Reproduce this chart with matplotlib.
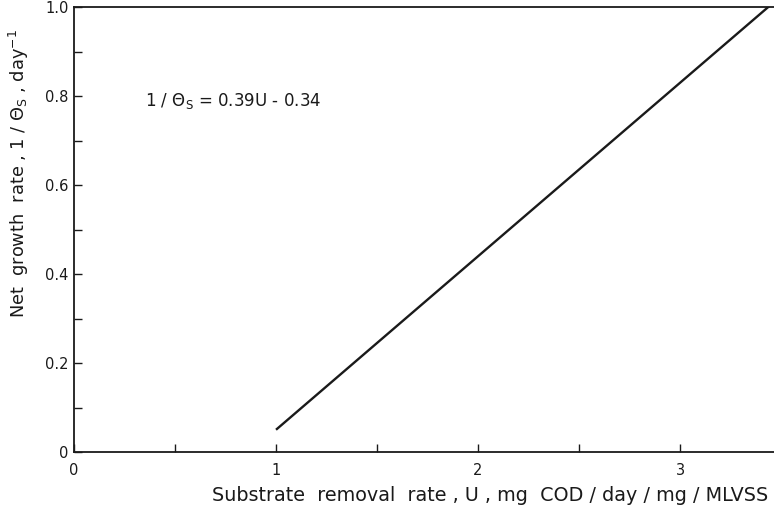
import matplotlib

matplotlib.use("Agg")
import matplotlib.pyplot as plt
import numpy as np
from matplotlib.ticker import MultipleLocator, FixedLocator

# regression line 1/theta_s = 0.39U - 0.34, drawn between these U values
u_ends = [1.0, 3.46]
slope = 0.39
intercept = -0.34
x_ticks = [0, 1, 2, 3]
x_tick_labels = ["0", "1", "2", "3"]
y_ticks = [0.0, 0.2, 0.4, 0.6, 0.8, 1.0]
y_tick_labels = ["0", "0.2", "0.4", "0.6", "0.8", "1.0"]

ink = "#1a1a1a"

fig = plt.figure(figsize=(7.74, 5.09), dpi=100)
ax = fig.add_axes([0.0956, 0.112, 0.9044, 0.874])

u = np.array(u_ends)
ax.plot(u, slope * u + intercept, color=ink, linewidth=1.7, solid_capstyle="butt")

ax.set_xlim(0, 3.465)
ax.set_ylim(0, 1.0)
ax.xaxis.set_major_locator(FixedLocator(x_ticks))
ax.set_xticklabels(x_tick_labels)
ax.xaxis.set_minor_locator(MultipleLocator(0.5))
ax.yaxis.set_major_locator(FixedLocator(y_ticks))
ax.set_yticklabels(y_tick_labels)
ax.yaxis.set_minor_locator(MultipleLocator(0.1))

ax.tick_params(which="both", direction="in", colors=ink, labelsize=10.5, width=1.0)
ax.tick_params(which="major", length=6)
ax.tick_params(which="minor", length=6)
ax.tick_params(axis="x", pad=8)
ax.tick_params(axis="y", pad=4)

ax.spines["right"].set_visible(False)
for side in ["left", "bottom", "top"]:
    ax.spines[side].set_color(ink)
    ax.spines[side].set_linewidth(1.3)

ax.text(0.35, 0.79, r"1 / $\Theta_\mathrm{S}$ = 0.39U - 0.34", fontsize=12, color=ink,
        va="center", ha="left")

ax.set_xlabel("Substrate  removal  rate , U , mg  COD / day / mg / MLVSS",
              fontsize=13.8, color=ink, labelpad=6, x=0.595)
ax.set_ylabel(r"Net  growth  rate , 1 / $\Theta_\mathrm{S}$ , day$^{-1}$",
              fontsize=12.8, color=ink, labelpad=10, y=0.625)

fig.savefig("out.png", dpi=100)
